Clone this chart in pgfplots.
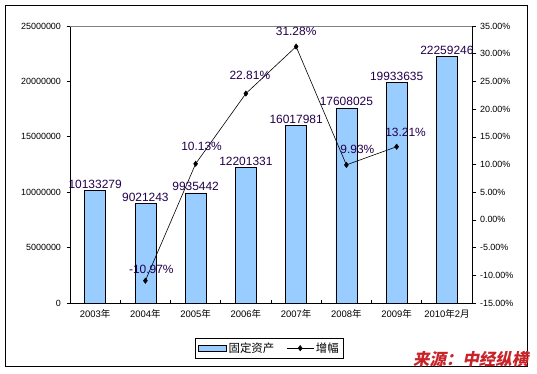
\documentclass[border=0pt]{standalone}
\usepackage{pgfplots}
\pgfplotsset{compat=1.18}
\usepackage{pgfplotstable}
\usepackage{fontspec}
\setmainfont{Liberation Sans}
\newfontfamily\cjk{Noto Sans CJK SC}
\newfontfamily\cjksrc[FakeSlant=0.2]{Noto Sans CJK SC}
\definecolor{barblue}{RGB}{153,204,255}
\definecolor{lblcol}{RGB}{35,0,75}
\definecolor{srcred}{RGB}{200,35,40}
\pgfplotsset{mylineleg/.style={legend image code/.code={\draw[mark repeat=2,mark phase=2,##1] plot coordinates {(0bp,0bp)(13.5bp,0bp)(27bp,0bp)};}}}

\pgfplotstableread{
x y label
0 10133279 10133279
1 9021243 9021243
2 9935442 9935442
3 12201331 12201331
4 16017981 16017981
5 17608025 17608025
6 19933635 19933635
7 22259246 22259246
}\bardata

\pgfplotstableread{
x y label dx dy
1 -10.97 -10.97 6 11
2 10.13 10.13 6 17
3 22.81 22.81 4 18
4 31.28 31.28 0 15
5 9.93 9.93 11 16
6 13.21 13.21 9 14
}\linedata

\begin{document}
\begin{tikzpicture}[x=1bp,y=1bp]
\useasboundingbox (0,0) rectangle (537,373);
\draw[black, line width=0.9bp] (5.5,7) rectangle (527.5,367.5);
\begin{axis}[
  at={(70bp,70bp)}, anchor=south west,
  scale only axis, width=402bp, height=277bp,
  xmin=-0.5, xmax=7.5, ymin=0, ymax=25000000,
  axis x line*=bottom, axis y line*=left,
  axis line style={black, line width=0.7bp},
  /pgf/number format/assume math mode=true,
  ytick={0,5000000,10000000,15000000,20000000,25000000},
  scaled y ticks=false,
  yticklabel style={/pgf/number format/fixed, /pgf/number format/1000 sep={}, font=\fontsize{9}{10}\selectfont, xshift=-2bp},
  xtick={0,1,2,3,4,5,6,7},
  xticklabels={2003{\cjk 年},2004{\cjk 年},2005{\cjk 年},2006{\cjk 年},2007{\cjk 年},2008{\cjk 年},2009{\cjk 年},2010{\cjk 年}2{\cjk 月}},
  xticklabel style={font=\fontsize{9.5}{10}\selectfont, yshift=-3bp},
  major x tick style={draw=none},
  minor xtick={0.5,1.5,2.5,3.5,4.5,5.5,6.5},
  xtick align=inside, ytick align=outside,
  major tick length=3.5bp, minor tick length=3.5bp,
  tick style={black, line width=0.6bp},
  clip=false,
]
\draw[gray, line width=0.9bp] (rel axis cs:0,1) -- (rel axis cs:1,1);
\addplot[ybar, bar width=21bp, fill=barblue, draw=black, line width=0.7bp,
  point meta=explicit symbolic,
  nodes near coords,
  every node near coord/.append style={font=\fontsize{12}{14}\selectfont, color=lblcol, inner sep=1.5bp}]
  table[x=x, y=y, meta=label] {\bardata};
\end{axis}
\begin{axis}[
  at={(70bp,70bp)}, anchor=south west,
  scale only axis, width=402bp, height=277bp,
  xmin=-0.5, xmax=7.5, ymin=-15, ymax=35,
  axis x line=none, axis y line*=right,
  axis line style={black, line width=0.7bp},
  /pgf/number format/assume math mode=true,
  ytick={-15,-10,-5,0,5,10,15,20,25,30,35},
  yticklabel={\pgfmathprintnumber[fixed,fixed zerofill,precision=2]{\tick}\%},
  yticklabel style={font=\fontsize{9}{10}\selectfont, xshift=1bp},
  ytick align=outside, major tick length=3.5bp,
  tick style={black, line width=0.6bp},
  clip=false,
  legend columns=2,
  legend style={at={(0.496,-0.163)}, anchor=center, draw=black, line width=0.7bp,
    font=\cjk\fontsize{11.5}{13}\selectfont, inner sep=2.5bp,
    /tikz/every even column/.append style={column sep=10bp}},
]
\addlegendimage{legend image code/.code={\draw[fill=barblue,draw=black,line width=0.7bp] (0bp,-3bp) rectangle (28bp,3bp);}}
\addlegendentry{固定资产}
\addplot[black, line width=0.6bp, mark=diamond*, mark size=2.6bp, mark options={solid, fill=black},
  point meta=explicit symbolic,
  nodes near coords={\pgfplotspointmeta\%},
  visualization depends on={\thisrow{dx}\as\dx},
  visualization depends on={\thisrow{dy}\as\dy},
  every node near coord/.append style={font=\fontsize{12}{14}\selectfont, color=lblcol, anchor=center, xshift=\dx, yshift=\dy},
  mylineleg]
  table[x=x, y=y, meta=label] {\linedata};
\addlegendentry{增幅}
\end{axis}
\node[anchor=south east, inner sep=0pt, text=srcred] at (528.5,5.5) {\cjksrc\bfseries\fontsize{16.5}{16.5}\selectfont 来源：中经纵横};
\end{tikzpicture}
\end{document}
